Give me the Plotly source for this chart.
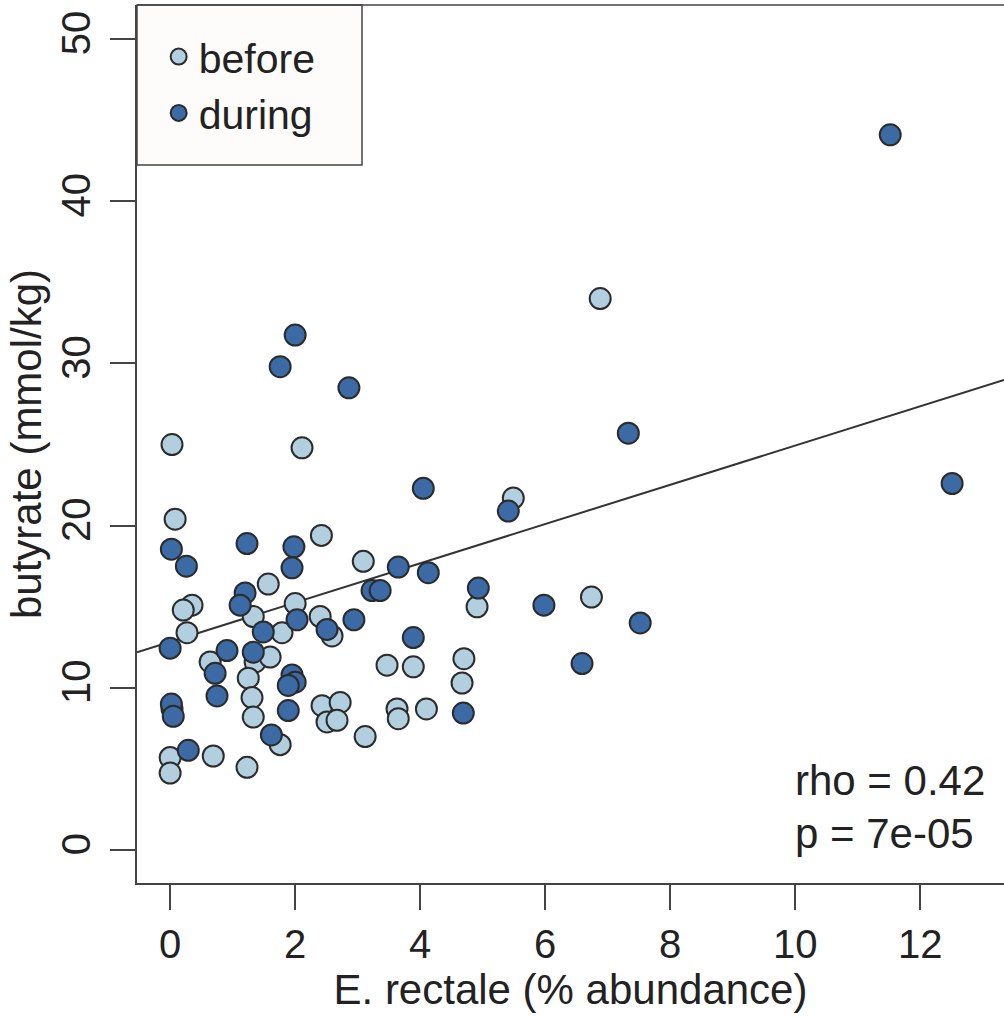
import plotly.graph_objects as go

# ---- data ----
before_x = [6.88, 0.03, 2.11, 0.08, 5.49, 2.42, 3.09, 1.57, 0.35, 0.21, 0.27, 1.33, 1.79, 2.00,
            2.40, 2.59, 6.74, 4.91, 0.64, 1.36, 1.60, 3.47, 3.89, 4.70, 4.67, 1.25, 1.31, 1.33,
            2.43, 2.72, 2.51, 2.67, 3.63, 3.65, 4.10, 3.12, 0.03, 0.00, 0.00, 0.69, 1.23, 1.76]
before_y = [34.0, 25.0, 24.8, 20.4, 21.7, 19.4, 17.8, 16.4, 15.1, 14.8, 13.4, 14.4, 13.4, 15.2,
            14.4, 13.2, 15.6, 15.0, 11.6, 11.6, 11.9, 11.4, 11.3, 11.8, 10.3, 10.6, 9.4, 8.2,
            8.9, 9.1, 7.9, 8.0, 8.7, 8.1, 8.7, 7.0, 8.7, 5.7, 4.75, 5.8, 5.1, 6.5]

during_x = [11.52, 12.51, 2.00, 1.76, 2.86, 7.33, 4.05, 5.41, 0.02, 0.26, 1.23, 1.98, 1.95, 3.65,
            4.13, 1.20, 1.12, 2.03, 1.49, 2.51, 2.94, 3.23, 3.36, 4.93, 5.98, 7.52, 6.59, 3.89,
            0.00, 0.91, 1.33, 0.72, 0.75, 1.95, 2.00, 1.89, 1.89, 4.69, 0.02, 0.05, 0.29, 1.62]
during_y = [44.1, 22.6, 31.75, 29.8, 28.5, 25.7, 22.3, 20.9, 18.55, 17.5, 18.9, 18.7, 17.4, 17.45,
            17.1, 15.85, 15.1, 14.2, 13.45, 13.6, 14.2, 16.0, 16.0, 16.15, 15.1, 14.0, 11.5, 13.1,
            12.45, 12.3, 12.2, 10.9, 9.5, 10.8, 10.35, 10.15, 8.6, 8.45, 9.0, 8.25, 6.15, 7.1]

fit_intercept = 12.84
fit_slope = 1.21

x_ticks = [0, 2, 4, 6, 8, 10, 12]
y_ticks = [0, 10, 20, 30, 40, 50]
x_range = [-0.53, 13.34]
y_range = [-2.03, 52.1]

stat_lines = ["rho = 0.42", "p = 7e-05"]

# ---- styling ----
FONT = "Liberation Sans, Arial, Helvetica, sans-serif"
TXT = "#222222"
AX = "#444444"
LIGHT = "#b1cfdf"
DARK = "#3b6aa5"
EDGE = "#2b2b2b"

fig = go.Figure()

fig.add_trace(go.Scatter(
    x=[x_range[0], x_range[1]],
    y=[fit_intercept + fit_slope * x_range[0], fit_intercept + fit_slope * x_range[1]],
    mode="lines", line=dict(color="#333333", width=2), showlegend=False, hoverinfo="skip"))

fig.add_trace(go.Scatter(
    x=before_x, y=before_y, mode="markers", name="before",
    marker=dict(size=21, color=LIGHT, line=dict(color=EDGE, width=2))))
fig.add_trace(go.Scatter(
    x=during_x, y=during_y, mode="markers", name="during",
    marker=dict(size=21, color=DARK, line=dict(color=EDGE, width=2))))

# statistic text
fig.add_annotation(x=9.97, y=4.3, xref="x", yref="y", text=stat_lines[0], showarrow=False,
                   xanchor="left", yanchor="middle", font=dict(family=FONT, size=42, color=TXT))
fig.add_annotation(x=9.97, y=1.05, xref="x", yref="y", text=stat_lines[1], showarrow=False,
                   xanchor="left", yanchor="middle", font=dict(family=FONT, size=42, color=TXT))

# legend frame (decorative box) and top border of plot frame
fig.add_shape(type="rect", xref="paper", yref="paper", x0=0, x1=(362 - 137) / 867,
              y0=1 - (165 - 5) / 878, y1=1, fillcolor="#fdfcfa",
              line=dict(color=AX, width=1.5), layer="below")
fig.add_shape(type="line", xref="paper", yref="paper", x0=0, x1=1, y0=1, y1=1,
              line=dict(color=AX, width=1.5))

axis_common = dict(
    showgrid=False, zeroline=False, showline=True, linecolor=AX, linewidth=1.5,
    ticks="outside", ticklen=25, tickwidth=1.5, tickcolor=AX, automargin=False,
    tickfont=dict(family=FONT, size=40, color=TXT),
)

fig.update_xaxes(range=x_range, tickvals=x_ticks, ticktext=[str(v) for v in x_ticks],
                 title=dict(text="E. rectale (% abundance)", font=dict(family=FONT, size=42, color=TXT),
                            standoff=10),
                 ticklabelstandoff=0, **axis_common)
fig.update_yaxes(range=y_range, tickvals=y_ticks, ticktext=[str(v) for v in y_ticks],
                 tickangle=-90,
                 title=dict(text="butyrate (mmol/kg)", font=dict(family=FONT, size=42, color=TXT),
                            standoff=0),
                 ticklabelstandoff=4, **axis_common)

fig.update_layout(
    width=1004, height=1017,
    margin=dict(l=137, r=0, t=5, b=134, autoexpand=False),
    paper_bgcolor="white", plot_bgcolor="white",
    font=dict(family=FONT, color=TXT),
    showlegend=True,
    legend=dict(x=0.025, y=0.979, xanchor="left", yanchor="top",
                bgcolor="rgba(0,0,0,0)", borderwidth=0,
                font=dict(family=FONT, size=41, color=TXT),
                itemsizing="trace"),
)

fig.write_html("out.html", config={"displayModeBar": False},
               post_script="document.body.style.margin='0';document.body.style.overflow='hidden';")
